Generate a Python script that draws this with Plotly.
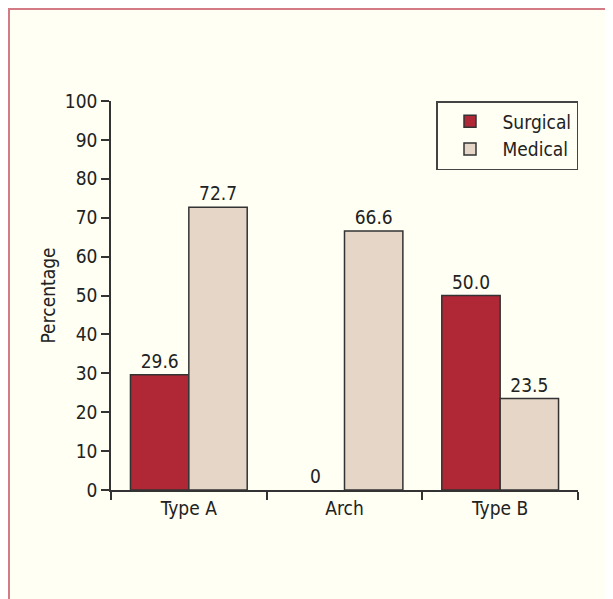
import plotly.graph_objects as go

categories = ["Type A", "Arch", "Type B"]
surgical = [29.6, 0, 50.0]
medical = [72.7, 66.6, 23.5]
surgical_labels = ["29.6", "0", "50.0"]
medical_labels = ["72.7", "66.6", "23.5"]
y_ticks = [0, 10, 20, 30, 40, 50, 60, 70, 80, 90, 100]

FONT = "DejaVu Sans Condensed, Liberation Sans Narrow, sans-serif"
INK = "#222222"
EDGE = "#333333"

fig = go.Figure()
fig.add_trace(go.Bar(
    name="Surgical", x=categories, y=surgical, text=surgical_labels,
    textposition="outside", texttemplate="%{text}", cliponaxis=False,
    marker=dict(color="#B02736",
                line=dict(color=EDGE, width=[1.5 if v > 0 else 0 for v in surgical])),
    textfont=dict(family=FONT, size=19, color=INK),
))
fig.add_trace(go.Bar(
    name="Medical", x=categories, y=medical, text=medical_labels,
    textposition="outside", texttemplate="%{text}", cliponaxis=False,
    marker=dict(color="#E6D6C8", line=dict(color=EDGE, width=1.5)),
    textfont=dict(family=FONT, size=19, color=INK),
))

W, H = 613, 599
L, T = 103, 93
PW, PH = 467, 389

fig.update_layout(
    width=W, height=H,
    barmode="group", bargap=0.25, bargroupgap=0,
    paper_bgcolor="#FFFFF4", plot_bgcolor="#FFFFF4",
    font=dict(family=FONT, size=19, color=INK),
    margin=dict(l=L, r=W - L - PW, t=T, b=H - T - PH, autoexpand=False),
    showlegend=True,
    legend=dict(
        x=1.0, xanchor="right", y=1.0, yanchor="top",
        bgcolor="#FFFFF4", bordercolor="#444444", borderwidth=1.5,
        font=dict(family=FONT, size=19, color=INK),
        traceorder="normal", itemwidth=55,
    ),
    xaxis=dict(
        type="category", range=[-0.5, 2.5], tickson="boundaries",
        ticks="outside", ticklen=8, tickwidth=1.5, tickcolor=EDGE,
        showline=True, linecolor=EDGE, linewidth=1.5,
        showgrid=False, zeroline=False,
        tickfont=dict(family=FONT, size=19, color=INK),
    ),
    yaxis=dict(
        range=[0, 100], tickvals=y_ticks,
        ticks="outside", ticklen=8, tickwidth=1.5, tickcolor=EDGE,
        showline=True, linecolor=EDGE, linewidth=1.5,
        showgrid=False, zeroline=False,
        tickfont=dict(family=FONT, size=19, color=INK),
        title=dict(text="Percentage", standoff=4,
                   font=dict(family=FONT, size=19, color=INK)),
    ),
    shapes=[dict(
        type="rect", xref="paper", yref="paper",
        x0=-(L - 1) / PW, x1=(W - L + 20) / PW,
        y0=-(H - T - PH + 20) / PH, y1=1 + (T - 1) / PH,
        line=dict(color="#D47A85", width=2), fillcolor="rgba(0,0,0,0)",
        layer="below",
    )],
)

fig.write_html("out.html")
